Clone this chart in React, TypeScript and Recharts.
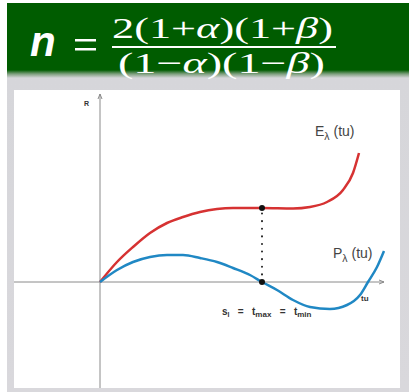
import React from "react";
import { LineChart, Line, XAxis, YAxis, ReferenceLine, ReferenceDot } from "recharts";

// E curve (red) and P curve (blue)
const tuE = [0, 1.7, 3.3, 5, 6.7, 8.3, 10, 11.7, 13.3, 16.2, 19.3, 21, 22.7, 24.3, 25.3, 25.9];
const valE = [0, 2.0, 3.5, 4.9, 5.9, 6.5, 7.0, 7.3, 7.4, 7.4, 7.35, 7.5, 8.0, 9.2, 10.9, 12.9];

const tuP = [0, 1.7, 3.3, 5, 6.7, 8.3, 10, 11.7, 13.3, 15, 16.2, 17.7, 19.3, 21, 23, 24.7, 26, 26.8, 27.7, 28.4];
const valP = [0, 1.2, 2.0, 2.5, 2.7, 2.7, 2.4, 2.0, 1.4, 0.7, 0, -0.8, -1.8, -2.5, -2.7, -2.3, -1.3, 0, 1.5, 3.1];

const tStar = 16.2;
const eStar = 7.4;

const eData = tuE.map((t, i) => ({ t, v: valE[i] }));
const pData = tuP.map((t, i) => ({ t, v: valP[i] }));

const RED = "#d63232";
const BLUE = "#2088c4";
const AXIS = "#8a8a8a";

const ArrowUp = (props: any) => {
    const { cx, cy } = props;
    return <path d={`M${cx - 2},${cy + 5} L${cx},${cy} L${cx + 2},${cy + 5}`} stroke={AXIS} fill="none" strokeWidth={1} />;
};

const ArrowRight = (props: any) => {
    const { cx, cy } = props;
    return <path d={`M${cx - 5},${cy - 2} L${cx},${cy} L${cx - 5},${cy + 2}`} stroke={AXIS} fill="none" strokeWidth={1} />;
};

// label drawn at a reference point, with optional subscript
const textAt = (main: string, sub: string, rest: string, size: number, bold = false) => (props: any) => {
    const { viewBox } = props;
    return (
        <text
            x={viewBox.x}
            y={viewBox.y}
            fontFamily="'Liberation Sans', Arial, sans-serif"
            fontSize={size}
            fontWeight={bold ? 700 : 400}
            fill={bold ? "#333" : "#444"}
            style={{ whiteSpace: "pre" }}
        >
            <tspan>{main}</tspan>
            {sub && (
                <tspan dy={size * 0.3} fontSize={size * 0.75}>
                    {sub}
                </tspan>
            )}
            {sub && <tspan dy={-size * 0.3}>{rest}</tspan>}
            {!sub && rest && <tspan>{rest}</tspan>}
        </text>
    );
};

const SLabel = (props: any) => {
    const { viewBox } = props;
    const f = "'Liberation Sans', Arial, sans-serif";
    return (
        <text x={viewBox.x} y={viewBox.y} fontFamily={f} fontSize={10} fontWeight={700} fill="#333" style={{ whiteSpace: "pre" }}>
            <tspan>s</tspan>
            <tspan dy={2} fontSize={7}>l</tspan>
            <tspan dy={-2}>{"   =   t"}</tspan>
            <tspan dy={2} fontSize={8}>max</tspan>
            <tspan dy={-2}>{"   =   t"}</tspan>
            <tspan dy={2} fontSize={8}>min</tspan>
        </text>
    );
};

function Formula() {
    const serif = "'Liberation Serif', 'DejaVu Serif', serif";
    return (
        <svg width={402} height={86} style={{ position: "absolute", left: 0, top: 0, overflow: "visible" }}>
            <text x={23} y={53} fontFamily="'Liberation Sans', Arial, sans-serif" fontStyle="italic" fontWeight={700} fontSize={42} fill="#fff">
                n
            </text>
            <rect x={68} y={36} width={21} height={2.5} fill="#fff" />
            <rect x={68} y={45} width={21} height={2.5} fill="#fff" />
            <text x={105} y={35} fontFamily={serif} fontSize={30} fill="#fff" textLength={221} lengthAdjust="spacingAndGlyphs">
                2(1+<tspan fontStyle="italic">α</tspan>)(1+<tspan fontStyle="italic">β</tspan>)
            </text>
            <rect x={105} y={43} width={224} height={2} fill="#fff" />
            <text x={111} y={70} fontFamily={serif} fontSize={30} fill="#fff" textLength={207} lengthAdjust="spacingAndGlyphs">
                (1−<tspan fontStyle="italic">α</tspan>)(1−<tspan fontStyle="italic">β</tspan>)
            </text>
        </svg>
    );
}

export default function App() {
    return (
        <div style={{ position: "absolute", left: 0, top: 0, width: 409, height: 392, background: "#fff", overflow: "hidden" }}>
            <div
                style={{
                    position: "absolute",
                    left: 7,
                    top: 3,
                    width: 402,
                    height: 389,
                    background: "linear-gradient(to bottom, #005c00 0px, #005c00 67px, #7fa07f 71px, #d6d6da 75px, #d9d8dc 100%)",
                }}
            >
                <Formula />
            </div>
            <div style={{ position: "absolute", left: 14, top: 90, width: 386, height: 298, background: "#fff" }}>
                <LineChart width={386} height={298} margin={{ top: 0, right: 0, bottom: 0, left: 0 }}>
                    <XAxis type="number" dataKey="t" domain={[-8.6, 30]} hide allowDataOverflow />
                    <YAxis type="number" domain={[-10.6, 19.2]} hide allowDataOverflow />
                    <ReferenceLine segment={[{ x: -8.6, y: 0 }, { x: 28.4, y: 0 }]} stroke={AXIS} strokeWidth={1} />
                    <ReferenceLine segment={[{ x: 0, y: -10.6 }, { x: 0, y: 18.8 }]} stroke={AXIS} strokeWidth={1} />
                    <ReferenceDot x={0} y={18.8} r={0} shape={ArrowUp} />
                    <ReferenceDot x={28.4} y={0} r={0} shape={ArrowRight} />
                    <ReferenceLine
                        segment={[{ x: tStar, y: 0 }, { x: tStar, y: eStar }]}
                        stroke="#222"
                        strokeWidth={2}
                        strokeDasharray="0.1 7.5"
                        strokeLinecap="round"
                    />
                    <Line data={eData} dataKey="v" type="monotone" stroke={RED} strokeWidth={2.5} dot={false} isAnimationActive={false} />
                    <Line data={pData} dataKey="v" type="monotone" stroke={BLUE} strokeWidth={2.5} dot={false} isAnimationActive={false} />
                    <ReferenceDot x={tStar} y={eStar} r={3} fill="#111" stroke="none" />
                    <ReferenceDot x={tStar} y={0} r={3} fill="#111" stroke="none" />
                    <ReferenceDot x={-1.6} y={17.6} r={0} label={{ content: textAt("R", "", "", 7, true) }} />
                    <ReferenceDot x={21.5} y={14.6} r={0} label={{ content: textAt("E", "λ", " (tu)", 14) }} />
                    <ReferenceDot x={23.3} y={2.4} r={0} label={{ content: textAt("P", "λ", " (tu)", 14) }} />
                    <ReferenceDot x={26.1} y={-1.9} r={0} label={{ content: textAt("tu", "", "", 8, true) }} />
                    <ReferenceDot x={12.2} y={-3.3} r={0} label={{ content: SLabel }} />
                </LineChart>
            </div>
        </div>
    );
}
